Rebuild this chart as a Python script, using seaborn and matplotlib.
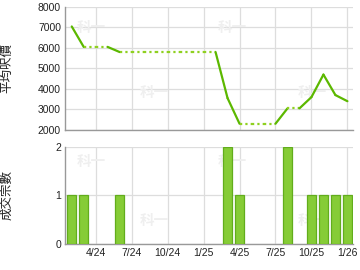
import matplotlib
matplotlib.use("Agg")
import matplotlib.pyplot as plt
import seaborn as sns
import pandas as pd

# month index: 0 = 1/24
months = list(range(1, 25))
avg_price = [7050, 6050, 6050, 6050, 5800, 5800, 5800, 5800, 5800, 5800, 5800, 5800,
             5800, 3550, 2300, 2300, 2300, 2300, 3050, 3050, 3600, 4700, 3700, 3400]
# segments (start month, end month) drawn solid; the rest dotted
solid_segments = [(1, 2), (4, 5), (13, 14), (14, 15), (18, 19), (20, 21), (21, 22), (22, 23), (23, 24)]
bar_months = [1, 2, 5, 14, 15, 19, 21, 22, 23, 24]
bar_counts = [1, 1, 1, 2, 1, 2, 1, 1, 1, 1]
tick_pos = [3, 6, 9, 12, 15, 18, 21, 24]
tick_labels = ["4/24", "7/24", "10/24", "1/25", "4/25", "7/25", "10/25", "1/26"]

sns.set_style("white")
plt.rcParams['font.family'] = ['Liberation Sans', 'Noto Sans CJK TC', 'DejaVu Sans']

fig = plt.figure(figsize=(3.6, 2.7), dpi=100)
ax1 = fig.add_axes([0.181, 0.519, 0.799, 0.455])
ax2 = fig.add_axes([0.181, 0.096, 0.799, 0.360])

price_df = pd.DataFrame({"m": months, "p": avg_price})
line_col = "#5cb800"
dot_col = "#8fd020"
for a, b in zip(months[:-1], months[1:]):
    seg = price_df[(price_df.m >= a) & (price_df.m <= b)]
    if (a, b) in solid_segments:
        sns.lineplot(data=seg, x="m", y="p", ax=ax1, color=line_col, lw=1.6, zorder=3)
    else:
        sns.lineplot(data=seg, x="m", y="p", ax=ax1, color=dot_col, lw=1.6,
                     linestyle=(0, (1, 1.4)), zorder=3)

bar_df = pd.DataFrame({"m": bar_months, "c": bar_counts})
sns.barplot(data=bar_df, x="m", y="c", ax=ax2, native_scale=True, width=0.72,
            color="#86cc36", edgecolor="#62ad1c", linewidth=0.9, saturation=1, zorder=3)

for ax in (ax1, ax2):
    ax.set_xlim(0.45, 24.45)
    ax.set_xticks(tick_pos)
    ax.grid(True, color="#dddddd", lw=0.9, zorder=0)
    ax.set_axisbelow(True)
    for s in ("top", "right"):
        ax.spines[s].set_visible(False)
    for s in ("left", "bottom"):
        ax.spines[s].set_color("#999999")
        ax.spines[s].set_linewidth(1.0)
    ax.tick_params(axis="both", length=0, labelsize=7.5, colors="#222222", pad=3)
    ax.set_xlabel("")

ax1.set_ylim(2000, 8000)
ax1.set_yticks([2000, 3000, 4000, 5000, 6000, 7000, 8000])
ax1.set_xticklabels([])
ax1.set_ylabel("平均呎價", fontsize=9, color="#222222")
ax1.yaxis.set_label_coords(-0.18, 0.5)

ax2.set_ylim(0, 2)
ax2.set_yticks([0, 1, 2])
ax2.set_xticklabels(tick_labels)
ax2.set_ylabel("成交宗數", fontsize=9, color="#222222")
ax2.yaxis.set_label_coords(-0.18, 0.5)

# faint watermark behind the data
for ax, spots in ((ax1, [(0.04, 0.80), (0.26, 0.27), (0.53, 0.80), (0.81, 0.27)]),
                  (ax2, [(0.04, 0.80), (0.26, 0.20), (0.53, 0.80), (0.81, 0.20)])):
    for (x, y) in spots:
        ax.text(x, y, "科一", transform=ax.transAxes, fontsize=10.5, color="#efefef",
                weight="bold", zorder=1, family=['Noto Sans CJK TC'])

fig.savefig("out.png", dpi=100)
